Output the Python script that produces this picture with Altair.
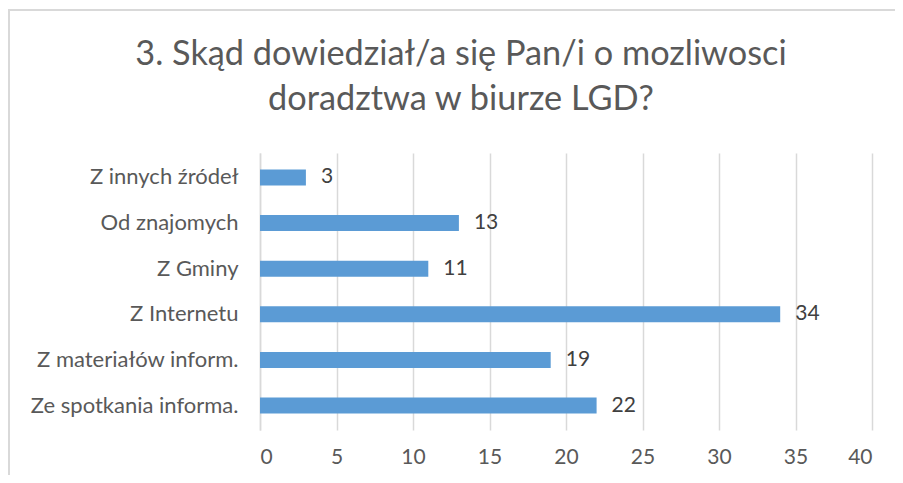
import altair as alt
import pandas as pd

categories = ["Z innych źródeł", "Od znajomych", "Z Gminy", "Z Internetu",
              "Z materiałów inform.", "Ze spotkania informa."]
values = [3, 13, 11, 34, 19, 22]
x_ticks = [0, 5, 10, 15, 20, 25, 30, 35, 40]
title_lines = ["3. Skąd dowiedział/a się Pan/i o mozliwosci", "doradztwa w biurze LGD?"]

df = pd.DataFrame({"cat": categories, "val": values})

FONT = "Lato"
GRAY = "#595959"
GRID = "#d9d9d9"

y_enc = alt.Y(
    "cat:N", sort=categories,
    scale=alt.Scale(paddingInner=0.65, paddingOuter=0.36),
    axis=alt.Axis(title=None, labelFont=FONT, labelFontSize=22, labelColor=GRAY,
                  labelLimit=400, ticks=False, domainColor=GRID, domainWidth=1.5,
                  labelPadding=22),
)
x_enc = alt.X(
    "val:Q", scale=alt.Scale(domain=[0, 40], nice=False),
    axis=alt.Axis(values=x_ticks, title=None, grid=True, gridColor=GRID, gridWidth=1.5,
                  domain=False, ticks=False, labelPadding=16, labelFont=FONT,
                  labelFontSize=21, labelColor=GRAY),
)

bars = alt.Chart(df).mark_bar(color="#5B9BD5").encode(x=x_enc, y=y_enc)
labels = alt.Chart(df).mark_text(align="left", baseline="middle", dx=15, font=FONT,
                                 fontSize=21, color="#404040").encode(
    x=alt.X("val:Q"), y=alt.Y("cat:N", sort=categories), text="val:Q")

title_df = pd.DataFrame({"line": title_lines, "row": [0, 1]})
title_l1 = alt.Chart(title_df.iloc[[0]]).mark_text(
    font=FONT, fontSize=34.3, color=GRAY, align="center", baseline="alphabetic").encode(
    x=alt.value(201), y=alt.value(-88), text="line:N")
title_l2 = alt.Chart(title_df.iloc[[1]]).mark_text(
    font=FONT, fontSize=34.3, color=GRAY, align="center", baseline="alphabetic").encode(
    x=alt.value(201), y=alt.value(-43), text="line:N")

frame_df = pd.DataFrame({"k": [0]})
top_line = alt.Chart(frame_df).mark_rule(color=GRID, strokeWidth=2).encode(
    x=alt.value(-252), x2=alt.value(640), y=alt.value(-143))
left_line = alt.Chart(frame_df).mark_rule(color=GRID, strokeWidth=2).encode(
    x=alt.value(-251), y=alt.value(-143), y2=alt.value(322))

chart = alt.layer(top_line, left_line, bars, labels, title_l1, title_l2).properties(
    width=612, height=277,
    padding={"left": 252, "top": 145, "right": 23, "bottom": 45},
    autosize=alt.AutoSizeParams(type="none"),
).configure_view(stroke=None)

chart.save("out.html", embed_options={"renderer": "svg", "actions": False})
